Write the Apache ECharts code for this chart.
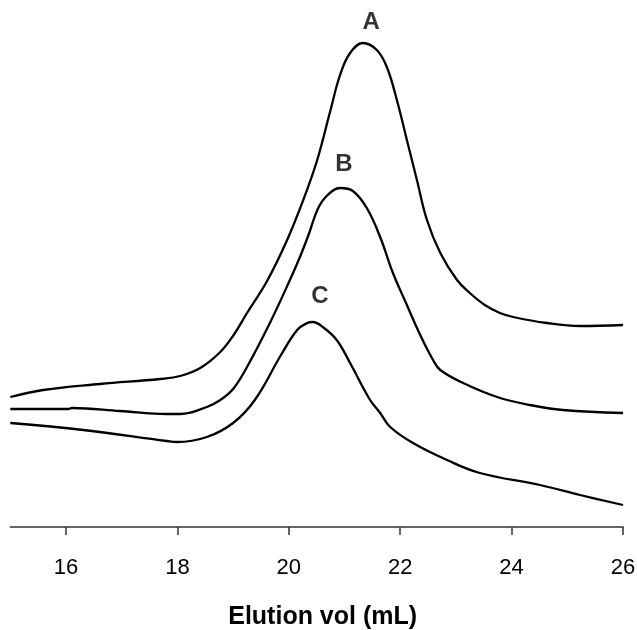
<!DOCTYPE html>
<html><head><meta charset="utf-8">
<script src="https://cdn.jsdelivr.net/npm/echarts@6/dist/echarts.min.js"></script>
<style>html,body{margin:0;padding:0;background:#fff}#c{width:637px;height:630px}</style>
</head><body><div id="c"></div>
<script>
const xTicks = [16, 18, 20, 22, 24, 26];
const seriesA = [[15.0,130],[15.59,137],[16.61,143],[17.69,148],[18.05,151],[18.41,159],[18.77,175],[19.01,192],[19.25,214],[19.61,246],[19.97,287],[20.26,327],[20.51,367],[20.74,415],[20.92,452],[21.10,474],[21.33,484],[21.58,477],[21.76,460],[21.94,427],[22.12,387],[22.30,347],[22.48,307],[22.72,274],[23.02,247],[23.25,234],[23.52,222],[23.79,214],[24.03,210],[24.63,204],[25.23,201],[26.0,202]];
const seriesB = [[15.0,118],[16.04,118],[16.11,119],[16.97,116],[17.81,113],[18.05,113],[18.53,120],[18.77,127],[19.00,138],[19.25,160],[19.66,204],[20.02,247],[20.20,270],[20.36,293],[20.52,318],[20.68,331],[20.92,339],[21.15,336],[21.40,319],[21.64,290],[21.87,254],[22.12,222],[22.36,192],[22.59,167],[22.72,157],[23.13,144],[23.74,130],[24.33,122],[24.92,117],[26.0,114]];
const seriesC = [[15.0,104],[16.31,97],[17.81,86],[17.99,85],[18.53,90],[19.00,104],[19.39,127],[19.86,172],[20.15,197],[20.33,204],[20.43,205],[20.61,200],[20.86,187],[21.10,164],[21.46,127],[21.64,114],[21.82,100],[22.23,84],[22.84,67],[23.43,54],[24.51,42],[25.23,32],[26.0,22]];
const peakLabels = [["A",21.48,505],["B",20.99,363],["C",20.56,231]];

const chart = echarts.init(document.getElementById('c'));
const lineSeries = (d) => ({type:'line', data:d, smooth:0.4, showSymbol:false, symbol:'none',
  lineStyle:{color:'#000', width:2.3}, silent:true});
chart.setOption({
  animation:false,
  grid:{left:10.3, right:14, top:0, bottom:103, outerBoundsMode:'none', containLabel:false},
  xAxis:{type:'value', min:15, max:26,
    name:'Elution vol (mL)', nameLocation:'middle', nameGap:78,
    nameTextStyle:{fontFamily:'Liberation Sans, Arial', fontWeight:'bold', fontSize:25, color:'#000', padding:[0,0,0,12]},
    axisLine:{show:true, lineStyle:{color:'#333', width:1.5}},
    axisTick:{show:true, customValues:xTicks, length:8, lineStyle:{color:'#333', width:1.5}},
    axisLabel:{customValues:xTicks, margin:30, fontFamily:'Liberation Sans, Arial', fontSize:22, color:'#000'},
    splitLine:{show:false}},
  yAxis:{type:'value', min:0, max:527, show:false, splitLine:{show:false}},
  series:[lineSeries(seriesA), lineSeries(seriesB), lineSeries(seriesC),
    {type:'scatter', symbolSize:0, silent:true,
     data:peakLabels.map(p=>({name:p[0], value:[p[1],p[2]]})),
     label:{show:true, position:'inside', formatter:'{b}', fontFamily:'Liberation Sans, Arial', fontWeight:'bold', fontSize:24, color:'#000'}}]
});
</script></body></html>
